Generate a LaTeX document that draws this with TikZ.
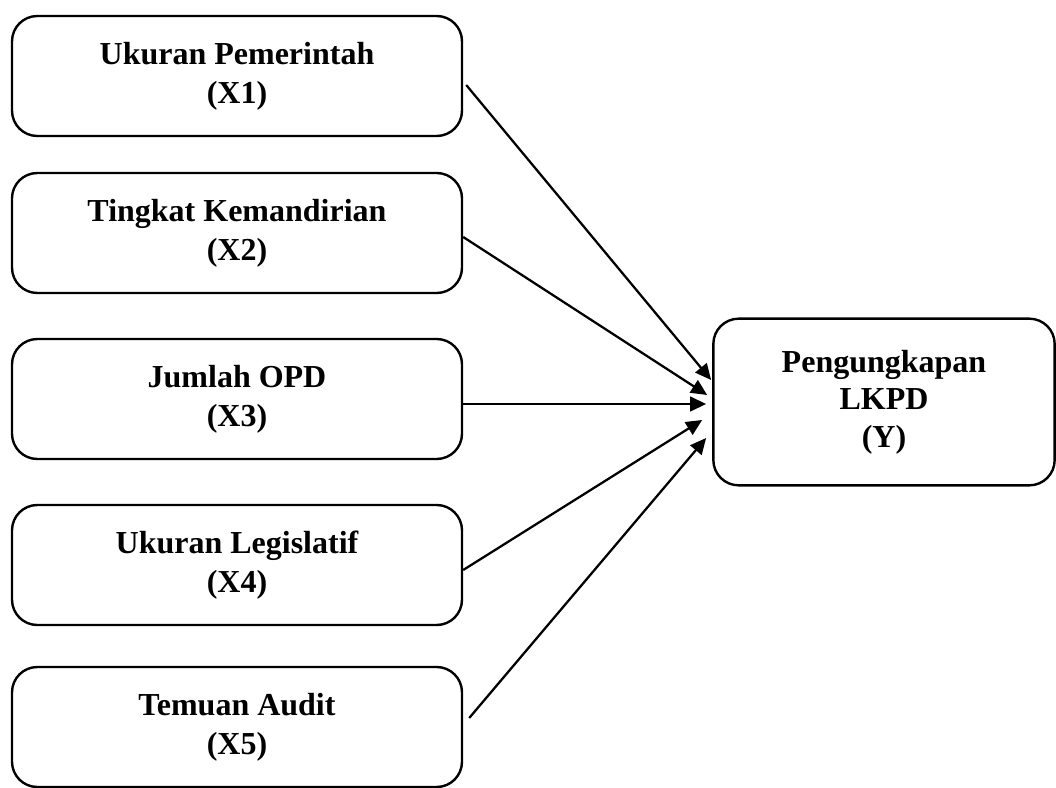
\documentclass[tikz,border=0pt]{standalone}
\usepackage{fontspec}
\setmainfont{Liberation Serif}
\usepackage{tikz}
\usetikzlibrary{arrows.meta,positioning,calc}

\begin{document}
\begin{tikzpicture}[
    x=0.75pt, y=-0.75pt,
    every node/.style={font=\fontsize{24}{29}\selectfont\bfseries},
    varbox/.style={rectangle, draw, line width=1.8pt, rounded corners=19pt, minimum width=337.5pt, minimum height=90pt, align=center},
    ybox/.style={varbox, minimum width=256pt, minimum height=125pt},
    arrow/.style={-{Triangle[length=12pt, width=11pt]}, line width=1.7pt},
]
\useasboundingbox (0,0) rectangle (1056,788);

% --- INDEPENDENT VARIABLES ---
\node[varbox] (x1) at (237, 76) {Ukuran Pemerintah\\(X1)};
\node[varbox] (x2) at (237, 233) {Tingkat Kemandirian\\(X2)};
\node[varbox] (x3) at (237, 399) {Jumlah OPD\\(X3)};
\node[varbox] (x4) at (237, 565) {Ukuran Legislatif\\(X4)};
\node[varbox] (x5) at (237, 727) {Temuan Audit\\(X5)};

% --- DEPENDENT VARIABLE ---
\node[ybox, font=\fontsize{24}{28}\selectfont\bfseries] (y) at (884, 402) {Pengungkapan\\LKPD\\(Y)};

% Arrows into Y
\draw[arrow] ($(x1.east)+(3,9)$) -- ($(y.west)+(-1,-22)$);
\draw[arrow] ($(x2.east)+(0,4)$) -- ($(y.west)+(-5,-7)$);
\draw[arrow] ($(x3.east)+(0,5)$) -- ($(y.west)+(-6,2)$);
\draw[arrow] ($(x4.east)+(0,5)$) -- ($(y.west)+(-10,18)$);
\draw[arrow] ($(x5.east)+(6,-9)$) -- ($(y.west)+(-6,36)$);

\end{tikzpicture}
\end{document}
